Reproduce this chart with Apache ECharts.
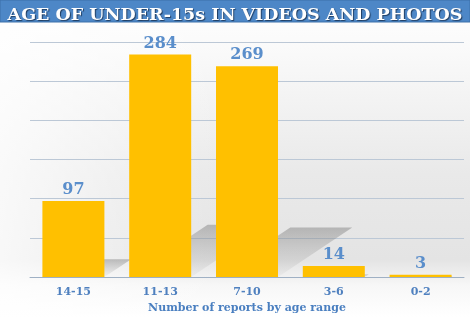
<!DOCTYPE html>
<html><head><meta charset="utf-8">
<script src="https://cdn.jsdelivr.net/npm/echarts@6/dist/echarts.min.js"></script>
<style>html,body{margin:0;padding:0;background:#fff}#c{width:470px;height:317px}</style>
</head><body><div id="c"></div>
<script>
const titleText = 'AGE OF UNDER-15s IN VIDEOS AND PHOTOS';
const categories = ['14-15', '11-13', '7-10', '3-6', '0-2'];
const reports = [97, 284, 269, 14, 3];
const axisName = 'Number of reports by age range';
const yTicks = { min: 0, max: 300, interval: 50 };

const SERIF = '"DejaVu Serif", serif';
const chart = echarts.init(document.getElementById('c'));
chart.setOption({
  animation: false,
  backgroundColor: {
    type: 'linear', x: 0, y: 0, x2: 0, y2: 1,
    colorStops: [
      { offset: 0, color: '#ffffff' },
      { offset: 0.15, color: '#fafafa' },
      { offset: 0.55, color: '#e9e9e9' },
      { offset: 0.82, color: '#e4e4e4' },
      { offset: 0.9, color: '#f7f7f7' },
      { offset: 1, color: '#ffffff' }
    ]
  },
  graphic: [
    { type: 'rect', z: -1, silent: true, shape: { x: 0, y: 0, width: 220, height: 317 },
      style: { fill: { type: 'linear', x: 0, y: 0, x2: 1, y2: 0,
        colorStops: [{ offset: 0, color: 'rgba(255,255,255,0.75)' }, { offset: 1, color: 'rgba(255,255,255,0)' }] } } },
    { type: 'rect', z: 0, silent: true, shape: { x: 0, y: 0, width: 470, height: 22 },
      style: { fill: '#4d87c7', stroke: '#3c70aa', lineWidth: 1 } }
  ],
  title: {
    text: titleText, left: 'center', top: 1,
    textStyle: { color: '#ffffff', fontFamily: SERIF, fontWeight: 'bold', fontSize: 17.5,
      textShadowColor: '#1d3a5e', textShadowBlur: 1, textShadowOffsetX: 1, textShadowOffsetY: 1 }
  },
  grid: { left: 30, right: 6, top: 42, bottom: 40, containLabel: false, outerBoundsMode: 'none' },
  xAxis: {
    type: 'category', data: categories,
    axisTick: { show: false },
    axisLine: { lineStyle: { color: '#9fb0c4', width: 1 } },
    axisLabel: { color: '#4f80bf', fontFamily: SERIF, fontWeight: 'bold', fontSize: 11, margin: 10 },
    name: axisName, nameLocation: 'middle', nameGap: 25,
    nameTextStyle: { color: '#4a7fc0', fontFamily: SERIF, fontWeight: 'bold', fontSize: 11 }
  },
  yAxis: {
    type: 'value', min: yTicks.min, max: yTicks.max, interval: yTicks.interval,
    axisLabel: { show: false }, axisLine: { show: false }, axisTick: { show: false },
    splitLine: { lineStyle: { color: '#bcc8d6', width: 1 } }
  },
  series: [
    {
      type: 'custom', z: 1, silent: true,
      data: reports.map((v, i) => [i, v]),
      renderItem: function (params, api) {
        const i = api.value(0), v = api.value(1);
        const base = api.coord([i, 0]);
        const top = api.coord([i, v]);
        const bw = 62;
        const h = base[1] - top[1];
        const dy = h * 0.235, dx = dy * 1.5;
        const xl = base[0] - bw / 2, xr = base[0] + bw / 2, y0 = base[1];
        return {
          type: 'polygon',
          shape: { points: [[xl, y0], [xr, y0], [xr + dx, y0 - dy], [xl + dx, y0 - dy]] },
          style: { fill: { type: 'linear', x: 0, y: 0, x2: 0, y2: 1,
            colorStops: [{ offset: 0, color: 'rgba(120,120,120,0.45)' }, { offset: 1, color: 'rgba(150,150,150,0.06)' }] } }
        };
      }
    },
    {
      type: 'bar', z: 3, data: reports, barWidth: 62,
      itemStyle: { color: '#ffc000' },
      label: { show: true, position: 'top', distance: 3, color: '#5a8ecb',
        fontFamily: SERIF, fontWeight: 'bold', fontSize: 16 }
    }
  ]
});
</script></body></html>
